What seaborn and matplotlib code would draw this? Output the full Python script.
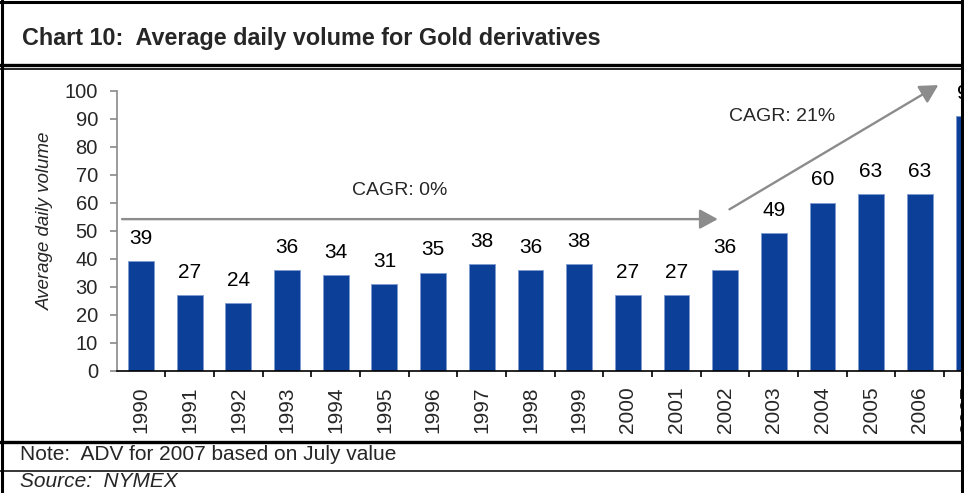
import matplotlib
matplotlib.use("Agg")
import matplotlib.pyplot as plt
from matplotlib.lines import Line2D
import seaborn as sns
import pandas as pd

years = ["1990", "1991", "1992", "1993", "1994", "1995", "1996", "1997", "1998",
         "1999", "2000", "2001", "2002", "2003", "2004", "2005", "2006", "2007"]
adv = [39, 27, 24, 36, 34, 31, 35, 38, 36, 38, 27, 27, 36, 49, 60, 63, 63, 91]
title = "Chart 10:  Average daily volume for Gold derivatives"
ylabel = "Average daily volume"
note = "Note:  ADV for 2007 based on July value"
source = "Source:  NYMEX"
cagr_old = "CAGR: 0%"
cagr_new = "CAGR: 21%"

sns.set_style("white")
plt.rcParams["font.family"] = ["Liberation Sans", "DejaVu Sans"]

W, H = 964, 493
fig = plt.figure(figsize=(W / 100, H / 100), dpi=100)

def fx(px):
    return px / W

def fy(py):
    return 1 - py / H

ax_left, ax_right = 116.7, 992.8
ax_bot, ax_top = 370.5, 90.7
ax = fig.add_axes([fx(ax_left), 1 - ax_bot / H, (ax_right - ax_left) / W, (ax_bot - ax_top) / H])

df = pd.DataFrame({"year": years, "adv": adv})
sns.barplot(data=df, x="year", y="adv", color="#0B3F98", saturation=1, width=0.53,
            edgecolor="#7f9bd0", linewidth=0.6, ax=ax)

ax.set_xlim(-0.5, len(years) - 0.5)
ax.set_ylim(0, 100)
ax.set_yticks(range(0, 101, 10))
ax.set_xlabel("")
ax.set_ylabel("")

for s in ["top", "right"]:
    ax.spines[s].set_visible(False)
ax.spines["left"].set_color("#8a8a8a")
ax.spines["left"].set_linewidth(1.2)
ax.spines["bottom"].set_color("#000000")
ax.spines["bottom"].set_linewidth(1.2)

ax.tick_params(axis="y", which="major", direction="out", length=5, width=1.2,
               color="#8a8a8a", labelsize=14.5, pad=8.5, left=True)
ax.tick_params(axis="x", which="major", length=0, pad=11.5, labelsize=15,
               labelrotation=90)
ax.set_xticks([i + 0.5 for i in range(len(years))], minor=True)
ax.tick_params(axis="x", which="minor", direction="out", length=4.5, width=1.2,
               color="#000000", bottom=True)
for lab in ax.get_xticklabels():
    lab.set_verticalalignment("top")

ax.bar_label(ax.containers[0], labels=[f"{v:.0f}" for v in adv], padding=9.5,
             fontsize=15, color="#000000")

arrow_kw = dict(arrowstyle="-|>,head_length=1.1,head_width=0.6", color="#8c8c8c",
                lw=1.7, shrinkA=0, shrinkB=0)
ax.annotate("", xy=(11.85, 54.1), xytext=(-0.39, 54.1), arrowprops=arrow_kw,
            annotation_clip=False)
ax.annotate("", xy=(16.38, 102.0), xytext=(12.09, 57.6), arrowprops=arrow_kw,
            annotation_clip=False)
ax.text(5.32, 64.3, cagr_old, ha="center", va="center", fontsize=14)
ax.text(13.18, 90.7, cagr_new, ha="center", va="center", fontsize=14)

fig.text(fx(45), fy(221), ylabel, rotation=90, ha="center", va="center",
         fontsize=13.5, style="italic")

fig.text(fx(22), fy(38), title, ha="left", va="center", fontsize=16.8,
         fontweight="bold")

fig.text(fx(20), fy(455), note, ha="left", va="center", fontsize=15)
fig.text(fx(20), fy(481.5), source, ha="left", va="center", fontsize=15, style="italic")

def hline(py, lw, x0=0, x1=W):
    fig.add_artist(Line2D([fx(x0), fx(x1)], [fy(py), fy(py)], color="black", lw=lw,
                          transform=fig.transFigure))

def vline(px, lw, y0=0, y1=H):
    fig.add_artist(Line2D([fx(px), fx(px)], [fy(y0), fy(y1)], color="black", lw=lw,
                          transform=fig.transFigure))

hline(1.5, 2.2)
hline(64.6, 2.4)
hline(69.2, 1.2)
hline(441.5, 2.4)
hline(470.7, 1.1)
vline(1.5, 2.2)
vline(962, 2.2)

fig.savefig("out.png", dpi=100)
